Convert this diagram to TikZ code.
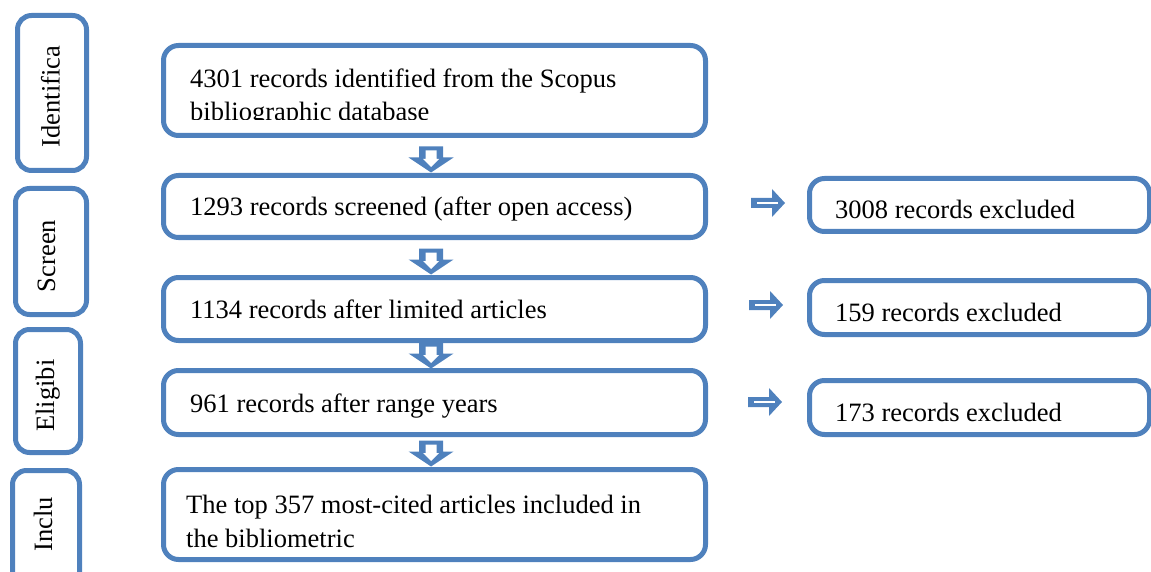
\documentclass[tikz,border=0pt]{standalone}
\usepackage{fontspec}
\setmainfont{Liberation Serif}
\usetikzlibrary{calc}
\definecolor{boxblue}{RGB}{79,129,189}
\tikzset{
  stagebox/.style={draw=boxblue, line width=5pt, rounded corners=14pt,
    inner sep=0pt, outer sep=0pt},
  flowbox/.style={draw=boxblue, line width=5pt, rounded corners=15pt,
    inner sep=0pt, outer sep=0pt},
  txt/.style={font=\fontsize{26.5}{34}\selectfont, inner sep=0pt, anchor=base west},
  stagetxt/.style={font=\fontsize{26.5}{34}\selectfont, inner sep=0pt,
    anchor=base, rotate=90},
  pics/downarrow/.style={code={
    \fill[boxblue] (-12,0) -- (12,0) -- (12,11) -- (22.5,11) -- (0,26)
      -- (-22.5,11) -- (-12,11) -- cycle;
    \fill[white] (-5.5,4) -- (5.5,4) -- (5.5,12.5) -- (8,12.5) -- (0,20.5)
      -- (-8,12.5) -- (-5.5,12.5) -- cycle;
  }},
  pics/rightarrow/.style={code={
    \fill[boxblue] (0,-5) -- (21,-5) -- (21,-14) -- (34,0) -- (21,14)
      -- (21,5) -- (0,5) -- cycle;
    \fill[white] (6,-1.2) rectangle (27,1.2);
  }},
}
\begin{document}
\begin{tikzpicture}[x=1pt, y=-1pt]
  \path[use as bounding box] (0,0) rectangle (1151,572);
  \clip (0,0) rectangle (1151,572);

  % stage boxes on the left
  \node[stagebox, minimum width=69pt, minimum height=155pt] (s1) at (52,93) {};
  \node[stagebox, minimum width=71pt, minimum height=126pt] (s2) at (51,251.5) {};
  \node[stagebox, minimum width=65pt, minimum height=123pt] (s3) at (48,391) {};
  \node[stagebox, minimum width=67pt, minimum height=130pt] (s4) at (46,535.5) {};
  \node[stagetxt] (l1) at (59.5,96.5) {Identifica};
  \node[stagetxt] (l2) at (55,256) {Screen};
  \node[stagetxt] (l3) at (54,395.5) {Eligibi};
  \node[stagetxt] (l4) at (52,524) {Inclu};

  % main flow boxes
  \node[flowbox, minimum width=542pt, minimum height=90pt] (b1) at (434.5,90.5) {};
  \node[flowbox, minimum width=542pt, minimum height=62pt] (b2) at (434.5,206.5) {};
  \node[flowbox, minimum width=542pt, minimum height=63pt] (b3) at (434.5,309) {};
  \node[flowbox, minimum width=542pt, minimum height=64pt] (b4) at (434.5,402.5) {};
  \node[flowbox, minimum width=542pt, minimum height=90pt] (b5) at (434.5,514.5) {};

  \node[txt] (t1a) at ($(b1.west)+(26.5,-2.5)$) {4301 records identified from the Scopus};
  \begin{scope}
    \clip (150,40) rectangle (720,120);
    \node[txt] (t1b) at ($(b1.west)+(26.5,30.5)$) {bibliographic database};
  \end{scope}
  \node[txt] (t2) at ($(b2.west)+(26.5,8.5)$) {1293 records screened (after open access)};
  \node[txt] (t3) at ($(b3.west)+(26.5,9.5)$) {1134 records after limited articles};
  \node[txt] (t4) at ($(b4.west)+(26.5,10)$) {961 records after range years};
  \node[txt] (t5a) at ($(b5.west)+(22.5,-1.5)$) {The top 357 most-cited articles included in};
  \node[txt] (t5b) at ($(b5.west)+(22.5,32.5)$) {the bibliometric};

  % excluded records
  \node[flowbox, minimum width=340pt, minimum height=53pt] (e1) at (979.5,205) {};
  \node[flowbox, minimum width=340pt, minimum height=54pt] (e2) at (979.5,307.5) {};
  \node[flowbox, minimum width=340pt, minimum height=54pt] (e3) at (979.5,407.5) {};
  \node[txt] (x1) at ($(e1.west)+(25.5,13.5)$) {3008 records excluded};
  \node[txt] (x2) at ($(e2.west)+(25.5,13.5)$) {159 records excluded};
  \node[txt] (x3) at ($(e3.west)+(25.5,13.5)$) {173 records excluded};

  % block arrows between the boxes
  \pic at ($(b2.north)+(-3.5,-29)$) {downarrow};
  \pic at ($(b3.north)+(-3.5,-29)$) {downarrow};
  \pic at ($(b4.north)+(-3.5,-28)$) {downarrow};
  \pic at ($(b5.north)+(-3.5,-29)$) {downarrow};
  \pic at ($(e1.west)+(-58.5,-2)$) {rightarrow};
  \pic at ($(e2.west)+(-60.5,-2.5)$) {rightarrow};
  \pic at ($(e3.west)+(-61.5,-5.5)$) {rightarrow};
\end{tikzpicture}
\end{document}
